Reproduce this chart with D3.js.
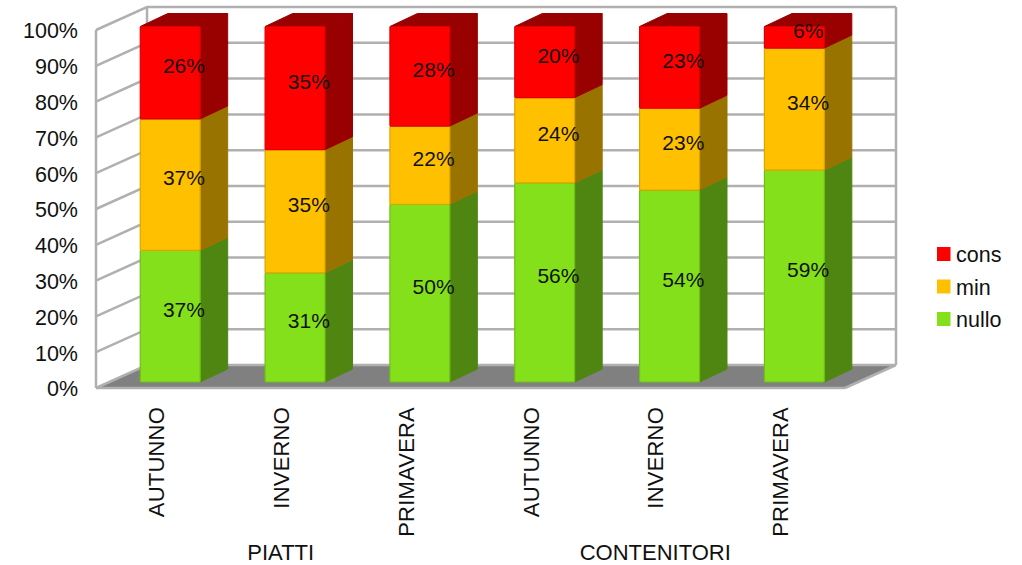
<!DOCTYPE html>
<html>
<head>
<meta charset="utf-8">
<script src="https://cdn.jsdelivr.net/npm/d3@7"></script>
<style>
  html, body { margin: 0; padding: 0; background: #fff; }
  svg { display: block; }
  text { font-family: "Liberation Sans", Arial, sans-serif; fill: #111; }
</style>
</head>
<body>
<svg id="chart" width="1022" height="565"></svg>
<script>
// Stacked percentage columns with a box-style 3D look
const seasons = ["AUTUNNO", "INVERNO", "PRIMAVERA", "AUTUNNO", "INVERNO", "PRIMAVERA"];
const groups = ["PIATTI", "CONTENITORI"];
const groupSpans = [[0, 2], [3, 5]];
const nullo = [37, 31, 50, 56, 54, 59];
const min = [37, 35, 22, 24, 23, 34];
const cons = [26, 35, 28, 20, 23, 6];
const seriesNames = ["nullo", "min", "cons"];
const axisTicks = [0, 0.1, 0.2, 0.3, 0.4, 0.5, 0.6, 0.7, 0.8, 0.9, 1];

const palette = {
  nullo: { front: "#84e01a", side: "#4f8612", edge: "#6fbf16" },
  min:   { front: "#ffc000", side: "#997300", edge: "#dba500" },
  cons:  { front: "#ff0000", side: "#990000", edge: "#dd0000" }
};
const gridColor = "#b0b0b0";

// Frame geometry: front plane of the box and the shift to its back plane
const frame = { left: 96, right: 845, top: 30, bottom: 388 };
const wallDepth = { x: 51, y: -23 };
const barDepth = { x: 27.5, y: -13 };
const barOffset = 11.8;

const rows = seasons.map((s, i) => ({ i, nullo: nullo[i], min: min[i], cons: cons[i] }));
const stacked = d3.stack().keys(seriesNames).offset(d3.stackOffsetExpand)(rows);

const x = d3.scaleBand().domain(d3.range(seasons.length))
  .range([frame.left, frame.right]).paddingInner(0.52).paddingOuter(0.26);
const yFrame = d3.scaleLinear().domain([0, 1]).range([frame.bottom, frame.top]);
const yBar = d3.scaleLinear().domain([0, 1]).range([382, 26.5]);

const svg = d3.select("#chart");
const poly = pts => pts.map(p => p.join(",")).join(" ");

// Floor of the box
svg.append("polygon").attr("fill", "#808080")
  .attr("points", poly([
    [frame.left, frame.bottom], [frame.right, frame.bottom],
    [frame.right + wallDepth.x, frame.bottom + wallDepth.y],
    [frame.left + wallDepth.x, frame.bottom + wallDepth.y]
  ]));

// Gridlines on the left and back walls
const grid = svg.append("g").attr("fill", "none").attr("stroke", gridColor).attr("stroke-width", 2.5);
axisTicks.forEach(t => {
  const yf = yFrame(t), yb = yf + wallDepth.y;
  grid.append("polyline").attr("points", poly([
    [frame.left, yf], [frame.left + wallDepth.x, yb], [frame.right + wallDepth.x, yb]
  ]));
});
grid.append("line").attr("x1", frame.left).attr("x2", frame.left)
  .attr("y1", yFrame(1)).attr("y2", yFrame(0));
grid.append("line").attr("x1", frame.left + wallDepth.x).attr("x2", frame.left + wallDepth.x)
  .attr("y1", yFrame(1) + wallDepth.y).attr("y2", yFrame(0) + wallDepth.y);
grid.append("line").attr("x1", frame.right + wallDepth.x).attr("x2", frame.right + wallDepth.x)
  .attr("y1", yFrame(1) + wallDepth.y).attr("y2", yFrame(0) + wallDepth.y);
grid.append("line").attr("x1", frame.left).attr("x2", frame.right)
  .attr("y1", yFrame(0)).attr("y2", yFrame(0));
grid.append("line").attr("x1", frame.right).attr("x2", frame.right + wallDepth.x)
  .attr("y1", yFrame(0)).attr("y2", yFrame(0) + wallDepth.y);

// Column segments: side face, cap on the top segment, then the front face
const bars = svg.append("g").attr("stroke-linejoin", "round");
rows.forEach(row => {
  const x0 = x(row.i) + barOffset, x1 = x0 + x.bandwidth();
  stacked.forEach((layer, li) => {
    const c = palette[layer.key];
    const [v0, v1] = layer[row.i];
    const yb = yBar(v0), yt = yBar(v1);
    const g = bars.append("g");
    g.append("polygon").attr("fill", c.side).attr("stroke", c.side).attr("stroke-width", 1)
      .attr("points", poly([
        [x1, yb], [x1 + barDepth.x, yb + barDepth.y],
        [x1 + barDepth.x, yt + barDepth.y], [x1, yt]
      ]));
    if (li === stacked.length - 1) {
      g.append("polygon").attr("fill", c.side).attr("stroke", c.side).attr("stroke-width", 1)
        .attr("points", poly([
          [x0, yt], [x0 + barDepth.x, yt + barDepth.y],
          [x1 + barDepth.x, yt + barDepth.y], [x1, yt]
        ]));
    }
    g.append("rect").attr("x", x0).attr("y", yt)
      .attr("width", x1 - x0).attr("height", yb - yt)
      .attr("fill", c.front).attr("stroke", c.edge).attr("stroke-width", 1.2).attr("rx", 1);
  });
});

// Value labels sit on the middle of each column's depth
const valueLabels = svg.append("g").attr("font-size", 21).attr("text-anchor", "middle");
stacked.forEach(layer => {
  rows.forEach(row => {
    const [v0, v1] = layer[row.i];
    valueLabels.append("text")
      .attr("x", x(row.i) + barOffset + (x.bandwidth() + barDepth.x) / 2)
      .attr("y", (yBar(v0) + yBar(v1)) / 2 + barDepth.y / 2 - 0.5)
      .attr("dy", "0.36em")
      .text(row[layer.key] + "%");
  });
});

// Percentage axis
const axis = svg.append("g").attr("transform", `translate(${frame.left - 18},1)`)
  .call(d3.axisLeft(yFrame).tickValues(axisTicks).tickSize(0).tickPadding(0).tickFormat(d3.format(".0%")));
axis.select(".domain").remove();
axis.selectAll("text").attr("font-size", 21.5);
axis.attr("font-family", null);

// Season labels, rotated
const seasonLabels = svg.append("g").attr("font-size", 22).attr("letter-spacing", 0.2);
seasons.forEach((s, i) => {
  const cx = x(i) + x.bandwidth() / 2 - 2;
  seasonLabels.append("text")
    .attr("transform", `translate(${cx},407) rotate(-90)`)
    .attr("text-anchor", "end").attr("dy", "0.35em").text(s);
});

// Group labels under the seasons they span
const groupLabels = svg.append("g").attr("font-size", 22).attr("text-anchor", "middle");
groups.forEach((g, i) => {
  const [a, b] = groupSpans[i];
  groupLabels.append("text")
    .attr("x", (x(a) + x(b) + x.bandwidth()) / 2 - 2.5)
    .attr("y", 560).text(g);
});

// Legend, top of the stack first
const legend = svg.append("g");
const legendY = d3.scalePoint().domain(seriesNames.slice().reverse()).range([254, 319]);
seriesNames.forEach(k => {
  legend.append("rect").attr("x", 937).attr("y", legendY(k) - 7)
    .attr("width", 13.5).attr("height", 14).attr("fill", palette[k].front);
  legend.append("text").attr("x", 956).attr("y", legendY(k) + 0.5).attr("dy", "0.36em")
    .attr("font-size", 21.5).attr("fill", "#222").text(k);
});
</script>
</body>
</html>
